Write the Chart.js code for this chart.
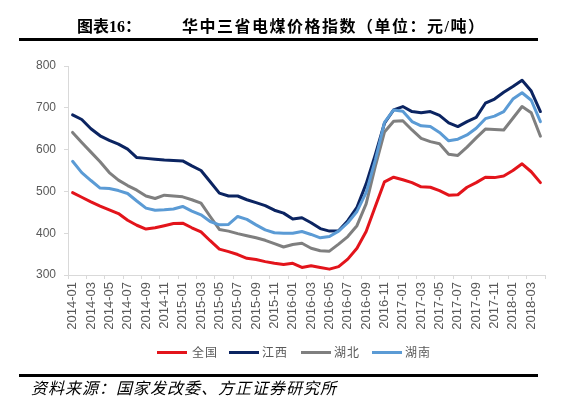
<!DOCTYPE html>
<html lang="zh">
  <head>
    <meta charset="UTF-8" />
    <script src="https://cdn.jsdelivr.net/npm/chart.js@4.4.0/dist/chart.umd.min.js"></script>
    <title>华中三省电煤价格指数</title>
    <style>
      body { margin: 0; background: #fff; }
      #wrap { position: relative; width: 577px; height: 398px; overflow: hidden; }
      #myChart { position: absolute; left: 0; top: 0; }
      .abs { position: absolute; white-space: nowrap; }
      .title { font-family: "Liberation Serif", "Noto Sans CJK SC"; font-size: 16px; font-weight: bold; color: #000; top: 17px; line-height: 20px; }
      .rule { background: #000; height: 3px; left: 19px; width: 519px; }
      .leg-line { height: 3px; width: 30px; top: 351px; }
      .leg-text { font-family: "Noto Sans CJK SC"; font-size: 12px; color: #595959; top: 344px; line-height: 16px; letter-spacing: 1px; }
      .source { font-family: "Liberation Serif", "Noto Sans CJK SC"; font-style: italic; font-size: 16px; color: #000; left: 31px; top: 379px; line-height: 20px; letter-spacing: 1px; }
    </style>
  </head>
  <body>
    <div id="wrap">
      <canvas id="myChart" width="577" height="398"></canvas>
      <div class="abs title" style="left:77px">图表16：</div>
      <div class="abs title" style="left:182px;letter-spacing:1.5px">华中三省电煤价格指数（单位：元/吨）</div>
      <div class="abs rule" style="top:38px"></div>

      <div class="abs leg-line" style="left:157px;background:#e3141b"></div>
      <div class="abs leg-text" style="left:192px">全国</div>
      <div class="abs leg-line" style="left:229px;background:#0b2461"></div>
      <div class="abs leg-text" style="left:262px">江西</div>
      <div class="abs leg-line" style="left:301px;background:#7f7f7f"></div>
      <div class="abs leg-text" style="left:334px">湖北</div>
      <div class="abs leg-line" style="left:372px;background:#5b9bd5"></div>
      <div class="abs leg-text" style="left:405px">湖南</div>

      <div class="abs rule" style="top:374px"></div>
      <div class="abs source">资料来源：国家发改委、方正证券研究所</div>
    </div>
    <script>
      // months 2014-01 .. 2018-04
      const months = [
        "2014-01", "2014-02", "2014-03", "2014-04", "2014-05", "2014-06",
        "2014-07", "2014-08", "2014-09", "2014-10", "2014-11", "2014-12",
        "2015-01", "2015-02", "2015-03", "2015-04", "2015-05", "2015-06",
        "2015-07", "2015-08", "2015-09", "2015-10", "2015-11", "2015-12",
        "2016-01", "2016-02", "2016-03", "2016-04", "2016-05", "2016-06",
        "2016-07", "2016-08", "2016-09", "2016-10", "2016-11", "2016-12",
        "2017-01", "2017-02", "2017-03", "2017-04", "2017-05", "2017-06",
        "2017-07", "2017-08", "2017-09", "2017-10", "2017-11", "2017-12",
        "2018-01", "2018-02", "2018-03", "2018-04"
      ];

      const national = [
        497, 486, 475, 465, 456, 447, 431, 419, 410, 413, 418, 423,
        424, 413, 403, 382, 362, 356, 349, 340, 337, 332, 328, 325,
        328, 318, 322, 318, 314, 320, 338, 364, 404, 464, 523, 534,
        528, 521, 511, 510, 502, 491, 492, 510, 521, 534, 533, 537,
        550, 566, 547, 521
      ];
      const jiangxi = [
        683, 672, 650, 633, 622, 613, 601, 581, 579, 577, 575, 574,
        573, 561, 550, 523, 496, 489, 489, 480, 473, 466, 455, 448,
        434, 437, 425, 411, 405, 406, 430, 462, 518, 588, 663, 695,
        703, 691, 688, 691, 682, 664, 655, 667, 677, 711, 721, 737,
        751, 766, 740, 691
      ];
      const hubei = [
        641, 617, 594, 571, 545, 527, 514, 503, 489, 483, 491, 489,
        487, 480, 472, 440, 409, 405, 399, 394, 389, 383, 375, 367,
        373, 376, 364, 358, 357, 374, 392, 418, 470, 560, 642, 668,
        669, 647, 627, 619, 614, 589, 586, 606, 628, 649, 648, 647,
        675, 703, 688, 632
      ];
      const hunan = [
        572, 545, 526, 508, 507, 502, 495, 477, 460, 455, 456, 458,
        464, 453, 444, 428, 420, 421, 440, 433, 420, 408, 401, 400,
        400, 404, 397, 389, 392, 405, 425, 452, 497, 575, 665, 695,
        692, 667, 657, 655, 641, 621, 625, 635, 651, 674, 680, 691,
        721, 736, 718, 667
      ];

      const axisGray = "#d9d9d9";
      const textGray = "#595959";

      const line = (label, data, color, order) => ({
        label,
        data,
        borderColor: color,
        backgroundColor: color,
        borderWidth: 3,
        pointRadius: 0,
        tension: 0,
        borderJoinStyle: "round",
        borderCapStyle: "round",
        order,
      });

      const ctx = document.getElementById("myChart").getContext("2d");
      new Chart(ctx, {
        type: "line",
        data: {
          labels: months,
          datasets: [
            line("全国", national, "#e3141b", 3),
            line("江西", jiangxi, "#0b2461", 2),
            line("湖北", hubei, "#7f7f7f", 1),
            line("湖南", hunan, "#5b9bd5", 0),
          ],
        },
        options: {
          responsive: false,
          animation: false,
          devicePixelRatio: 1,
          layout: { padding: { left: 0, right: 32, top: 66, bottom: 63 } },
          plugins: { legend: { display: false }, tooltip: { enabled: false } },
          scales: {
            x: {
              offset: true,
              grid: {
                offset: true,
                drawOnChartArea: false,
                drawTicks: true,
                tickLength: 4,
                // tick mark every second month
                color: (c) => (c.index === undefined || c.index % 2 === 0 ? axisGray : "rgba(0,0,0,0)"),
              },
              border: { display: true, color: axisGray, width: 1 },
              ticks: {
                autoSkip: false,
                minRotation: 90,
                maxRotation: 90,
                padding: 3,
                color: textGray,
                font: { family: "Liberation Sans", size: 13 },
                callback: (v, i) => (i % 2 === 0 ? months[i] : ""),
              },
              afterFit: (s) => { s.height = 60; },
            },
            y: {
              min: 300,
              max: 800,
              grid: { drawOnChartArea: false, drawTicks: true, tickLength: 4, color: axisGray },
              border: { display: true, color: axisGray, width: 1 },
              ticks: {
                stepSize: 100,
                padding: 8,
                color: textGray,
                font: { family: "Liberation Sans", size: 12 },
              },
              afterFit: (s) => { s.width = 68; },
            },
          },
        },
      });
    </script>
  </body>
</html>
